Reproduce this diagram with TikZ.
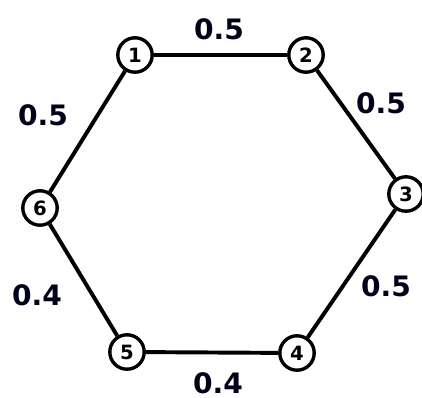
\documentclass[tikz,border=0pt]{standalone}
\usepackage{fontspec}
\setmainfont{DejaVu Sans}
\usepackage{tikz}
\usetikzlibrary{positioning}

\begin{document}
\begin{tikzpicture}[x=0.025cm, y=-0.025cm,
    vertex/.style={circle, draw=black, line width=2.4pt, fill=white, inner sep=0pt, minimum size=0.86cm, font=\bfseries\fontsize{14}{14}\selectfont},
    weight/.style={font=\bfseries\fontsize{20}{20}\selectfont, text=black!90!blue},
    link/.style={draw, line width=2.8pt}
]
    \useasboundingbox (0,0) rectangle (422,398);
    % vertices of the ring
    \node[vertex] (v1) at (135,55) {1};
    \node[vertex] (v2) at (306,55) {2};
    \node[vertex] (v3) at (406,194) {3};
    \node[vertex] (v4) at (297,353) {4};
    \node[vertex] (v5) at (127,352) {5};
    \node[vertex] (v6) at (40,208) {6};
    % weights
    \node[weight] (w12) at (219,29) {0.5};
    \node[weight] (w23) at (381,103) {0.5};
    \node[weight] (w34) at (386,286) {0.5};
    \node[weight] (w45) at (218,383) {0.4};
    \node[weight] (w56) at (37,295) {0.4};
    \node[weight] (w61) at (43,115) {0.5};
    \path [link] (v1) -- (v2);
    \path [link] (v2) -- (v3);
    \path [link] (v3) -- (v4);
    \path [link] (v4) -- (v5);
    \path [link] (v5) -- (v6);
    \path [link] (v6) -- (v1);
\end{tikzpicture}
\end{document}
